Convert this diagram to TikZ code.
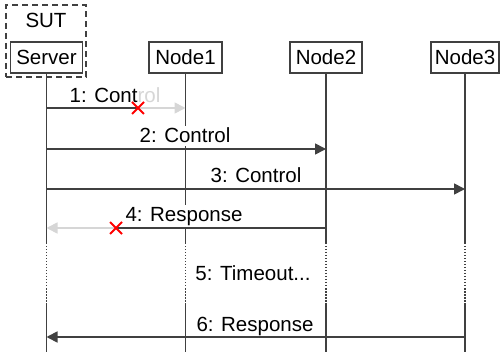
\documentclass[tikz,border=0pt]{standalone}
\usepackage{fontspec}
\setmainfont{Liberation Sans}
\usetikzlibrary{arrows.meta,shapes.misc}
\definecolor{ln}{HTML}{404040}
\definecolor{failgray}{HTML}{D6D6D6}
\begin{document}
\begin{tikzpicture}[x=1pt,y=-1pt,
  font=\fontsize{20.5}{24}\selectfont,
  actor/.style={draw=ln, line width=1.5pt, fill=white, minimum height=31pt, minimum width=72pt, inner sep=2pt},
  sutbox/.style={draw=ln, line width=1.6pt, dash pattern=on 6pt off 4pt, minimum width=80pt, minimum height=72pt, inner sep=0pt},
  life/.style={draw=ln, line width=1.7pt},
  lifedot/.style={draw=ln, line width=1.2pt, dash pattern=on 1.5pt off 1.5pt},
  msg/.style={draw=ln, line width=1.7pt, -{Triangle[length=11pt,width=11pt]}},
  plain/.style={draw=ln, line width=1.7pt},
  failmsg/.style={draw=failgray, line width=1.7pt, -{Triangle[length=11pt,width=11pt]}},
  lbl/.style={fill=white, inner xsep=1pt, inner ysep=2.5pt, anchor=base},
  lost/.style={cross out, draw=red, line width=2pt, minimum size=10pt, inner sep=0pt}
]
\useasboundingbox (0,0) rectangle (500,352);
% frame and actors
\node[sutbox] (sut) at (46,41) {};
\node[anchor=base] (sutlbl) at (46,28) {SUT};
\node[actor] (server) at (46.5,57.5) {Server};
\node[actor, minimum width=73pt] (node1) at (185.5,57.5) {Node1};
\node[actor] (node2) at (326,57.5) {Node2};
\node[actor, minimum width=68pt] (node3) at (465,57.5) {Node3};
% helper coordinates
\coordinate (d1) at (0,243);
\coordinate (d2) at (0,304);
\coordinate (bot) at (0,352);
\coordinate (m1) at (0,108);
\coordinate (m2) at (0,149);
\coordinate (m3) at (0,189);
\coordinate (m4) at (0,228);
\coordinate (m6) at (0,337);
\coordinate (c1) at (138,108);
\coordinate (c2) at (116,228);
% lifelines
\foreach \n in {server,node1,node2,node3}{
  \draw[life] (\n.south) -- (\n.south |- d1);
  \draw[lifedot] (\n.south |- d1) -- (\n.south |- d2);
  \draw[life] (\n.south |- d2) -- (\n.south |- bot);
}
% labels
\node[lbl] (l1) at (115,103) {1: Cont\textcolor{failgray}{rol}};
\node[lbl] (l2) at (185,143) {2: Control};
\node[lbl] (l3) at (256,183) {3: Control};
\node[lbl] (l4) at (184,222) {4: Response};
\node[lbl] (l5) at (253,280) {5: Timeout...};
\node[lbl] (l6) at (255,331) {6: Response};
% messages
\draw[plain] (server |- m1) -- (c1);
\draw[failmsg] (c1) -- (node1 |- m1);
\draw[msg] (server |- m2) -- (node2 |- m2);
\draw[msg] (server |- m3) -- (node3 |- m3);
\draw[plain] (node2 |- m4) -- (c2);
\draw[failmsg] (c2) -- (server |- m4);
\draw[msg] (node3 |- m6) -- (server |- m6);
% lost markers
\node[lost] (x1) at (c1) {};
\node[lost] (x2) at (c2) {};
\end{tikzpicture}
\end{document}
